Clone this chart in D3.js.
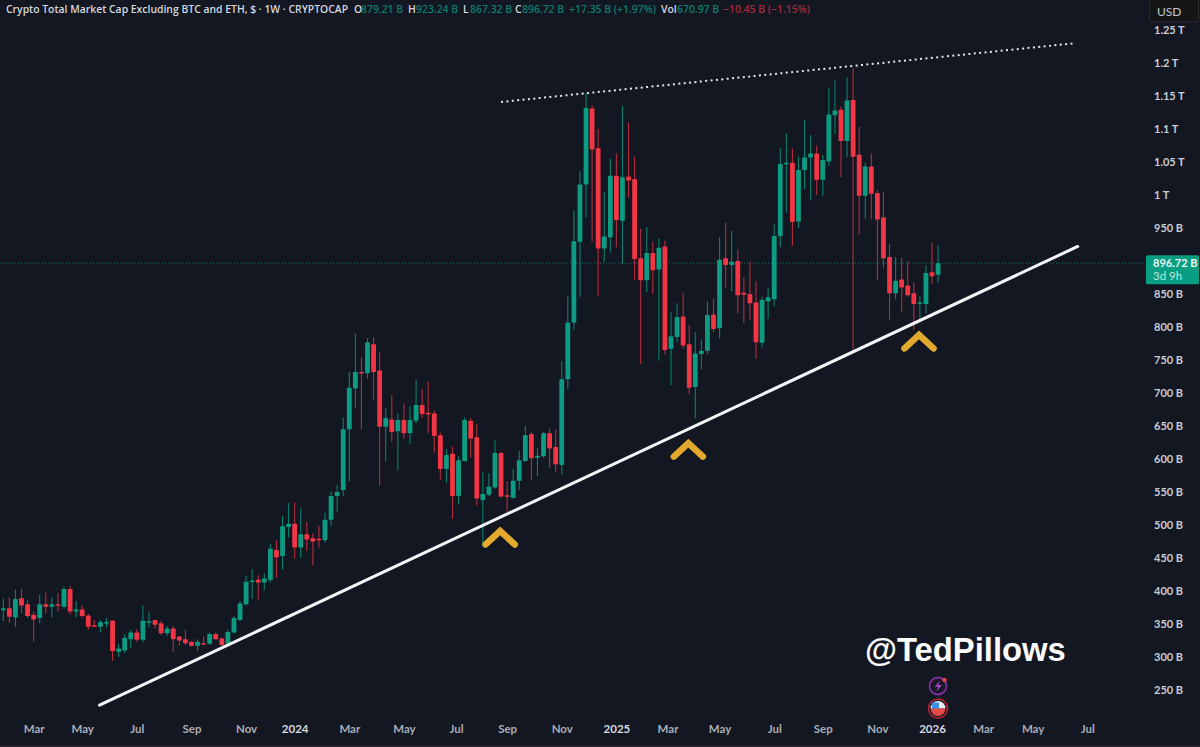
<!DOCTYPE html>
<html><head><meta charset="utf-8">
<script src="https://d3js.org/d3.v7.min.js"></script>
<style>html,body{margin:0;padding:0;background:#131722}svg{display:block}</style>
</head><body><div id="chart"></div>
<script>
const opens=[371,374,360,389,380,364,359,380,376,380,376,403,369,372,363,348,346,352,355,308,310,327,337,326,353,356,351,336,343,331,327,323,317,321,320,335,328,320,337,356,380,414,417,413,417,462,453,497,502,466,486,480,479,477,508,544,553,645,707,732,730,774,734,649,660,642,659,639,658,682,670,669,636,585,608,544,597,658,633,538,546,557,609,545,541,567,597,638,602,604,639,618,591,721,807,929,1016,1131,1071,919,936,1029,961,1028,1024,904,871,912,887,922,767,785,816,774,709,759,764,819,798,904,894,900,852,850,837,776,839,842,938,1047,1049,960,1038,1057,1063,1023,1051,1121,1129,1082,1144,1061,999,1043,1003,966,906,851,872,863,851,835,835,883,879.21];
const highs=[389,390,402,403,387,369,394,398,390,397,407,408,385,378,365,356,356,359,356,320,335,341,342,378,369,357,355,347,347,332,341,324,327,331,337,337,330,341,362,385,423,433,424,427,472,477,514,533,534,525,505,487,499,519,551,561,663,732,790,754,783,784,763,677,697,669,684,680,720,706,717,673,640,615,619,604,663,662,653,581,578,628,611,566,585,612,650,641,617,641,646,645,748,846,977,1036,1155,1136,1100,1005,1055,1063,1135,1110,1058,949,951,929,934,931,822,836,852,803,792,781,839,843,936,958,946,917,875,899,869,846,860,957,1071,1093,1071,1058,1114,1091,1075,1061,1162,1174,1134,1178,1192,1103,1049,1063,1007,1004,926,906,905,900,868,847,893,928,923.24];
const lows=[354,352,346,366,359,323,351,366,360,369,373,364,360,360,341,346,338,345,294,300,306,313,323,322,345,343,333,332,308,317,318,316,309,319,318,326,316,316,336,354,378,388,387,401,413,420,433,481,449,450,461,439,466,473,499,520,543,566,678,645,722,689,559,596,626,583,631,623,654,662,639,610,569,564,509,531,596,602,529,467,544,555,542,520,540,553,596,568,574,602,586,580,577,706,796,846,966,929,847,899,913,921,896,996,871,744,853,850,749,759,712,777,767,699,662,736,759,792,783,860,854,821,806,811,752,769,812,832,921,973,923,950,1009,993,1000,999,1044,1092,1027,1058,766,941,964,963,870,890,811,842,822,846,796,812,821,865,867.32];
const closes=[374,361,388,378,362,357,380,376,380,379,403,369,372,362,346,347,353,353,309,313,329,337,326,355,354,349,336,343,327,325,321,317,323,320,335,327,318,338,359,381,414,416,413,419,464,451,498,502,466,486,478,475,478,508,544,550,645,708,732,731,777,732,649,662,641,659,639,659,682,668,668,635,585,606,544,598,659,631,540,547,558,609,543,543,567,598,636,601,605,639,616,592,721,807,930,1016,1132,1069,919,937,1029,962,1027,1022,903,871,912,886,920,765,786,815,772,708,760,764,818,797,902,894,899,848,849,836,777,841,845,938,1047,1049,959,1038,1057,1063,1023,1053,1122,1128,1082,1143,1058,999,1043,1002,963,904,851,870,860,848,835,837,882,877,896.72];

const priceTicks=[250,300,350,400,450,500,550,600,650,700,750,800,850,950,1000,1050,1100,1150,1200,1250];
const monthTicks=["2023-03-06","2023-05-01","2023-07-03","2023-09-04","2023-11-06","2024-01-01","2024-03-04","2024-05-06","2024-07-05","2024-09-02","2024-11-04","2025-01-06","2025-03-06","2025-05-05","2025-07-07","2025-09-01","2025-11-03","2026-01-05","2026-03-05","2026-05-01","2026-07-03"];
const monthLabels=["Mar","May","Jul","Sep","Nov","2024","Mar","May","Jul","Sep","Nov","2025","Mar","May","Jul","Sep","Nov","2026","Mar","May","Jul"];
const supportLine=[["2023-05-21",227],["2026-06-22",922]];
const resistanceLine=[["2024-08-26",1141],["2026-06-19",1230]];
const chevrons=[["2024-08-25",491],["2025-03-30",624],["2025-12-21",788]];
const lastPrice=896.72;

const W=1200,H=747,UP="#0d9c82",DOWN="#f23645",BG="#131722",AXIS="#c9ccd4",FONT="Lato,'Open Sans',sans-serif";
const parse=d3.utcParse("%Y-%m-%d");
const firstWeek=parse("2023-01-30");
const weeks=opens.map((_,i)=>d3.utcDay.offset(firstWeek,i*7));
const x=d3.scaleUtc().domain([firstWeek,weeks[weeks.length-1]]).range([3.3,938.1]);
const y=d3.scaleLinear().domain([250,1250]).range([690,30]);
const svg=d3.select("#chart").append("svg").attr("width",W).attr("height",H).attr("viewBox",`0 0 ${W} ${H}`);
svg.append("rect").attr("width",W).attr("height",H).attr("fill",BG);
svg.append("rect").attr("y",745).attr("width",W).attr("height",2).attr("fill","#242528");

// last price line
svg.append("line").attr("x1",0).attr("x2",1146).attr("y1",y(lastPrice)).attr("y2",y(lastPrice))
  .attr("stroke",UP).attr("stroke-opacity",.75).attr("stroke-dasharray","1 2");

// candles
const c=svg.append("g").selectAll("g").data(weeks).join("g");
c.append("line").attr("x1",d=>x(d)).attr("x2",d=>x(d))
  .attr("y1",(d,i)=>y(highs[i])).attr("y2",(d,i)=>y(lows[i]))
  .attr("stroke",(d,i)=>closes[i]>=opens[i]?"#0c7f6c":"#b22d3c").attr("stroke-width",1.1);
c.append("rect").attr("x",d=>x(d)-2.4).attr("width",4.8)
  .attr("y",(d,i)=>y(Math.max(opens[i],closes[i])))
  .attr("height",(d,i)=>Math.max(1.5,Math.abs(y(opens[i])-y(closes[i]))))
  .attr("rx",.6)
  .attr("fill",(d,i)=>closes[i]>=opens[i]?UP:DOWN);

// drawings
const line=d3.line().x(d=>x(parse(d[0]))).y(d=>y(d[1]));
svg.append("path").attr("d",line(supportLine)).attr("stroke","#f4f5f6").attr("stroke-width",3).attr("fill","none").attr("stroke-linecap","round");
svg.append("path").attr("d",line(resistanceLine)).attr("stroke","#e4e6ea").attr("stroke-width",2).attr("fill","none").attr("stroke-dasharray","2 3.4");
svg.append("g").selectAll("path").data(chevrons).join("path")
  .attr("d",d=>{const a=x(parse(d[0])),b=y(d[1]);return `M${a-14.5},${b+13.5}L${a},${b}L${a+14.5},${b+13.5}`})
  .attr("fill","none").attr("stroke","#e2a92d").attr("stroke-width",6.5).attr("stroke-linecap","round").attr("stroke-linejoin","miter");

// axes
const yAxis=d3.axisRight(y).tickValues(priceTicks).tickSize(0).tickPadding(0)
  .tickFormat(v=>v>=1000?`${+(v/1000).toFixed(2)} T`:`${v} B`);
const gy=svg.append("g").attr("transform","translate(1154,0)").call(yAxis);
gy.select(".domain").remove();
gy.selectAll("text").attr("font-family",FONT).attr("font-size",11).attr("font-weight",700).attr("fill",AXIS);

const xAxis=d3.axisBottom(x).tickValues(monthTicks.map(parse)).tickSize(0).tickPadding(0)
  .tickFormat((d,i)=>monthLabels[i]);
const gx=svg.append("g").attr("transform","translate(0,725)").call(xAxis);
gx.select(".domain").remove();
gx.selectAll("text").attr("font-family",FONT).attr("font-size",11.5)
  .attr("font-weight",700)
  .attr("fill",(d,i)=>/^\d/.test(monthLabels[i])?"#d8dae0":"#a9acb5");

// last price tag
const tagY=y(lastPrice);
svg.append("rect").attr("x",1146).attr("y",tagY-8).attr("width",53).attr("height",29).attr("rx",1.5).attr("fill","#089e84");
svg.append("text").attr("x",1153).attr("y",tagY+4).text("896.72 B").attr("font-family",FONT).attr("font-size",11).attr("font-weight",700).attr("fill","#eaf7f4");
svg.append("text").attr("x",1153).attr("y",tagY+17).text("3d 9h").attr("font-family",FONT).attr("font-size",11.5).attr("font-weight",400).attr("fill","#bfe8df");

// currency box
svg.append("rect").attr("x",1149.5).attr("y",-2).attr("width",49).attr("height",24).attr("rx",3).attr("fill","#141516").attr("stroke","#2a2c30");
svg.append("text").attr("x",1157).attr("y",16).text("USD").attr("font-family",FONT).attr("font-size",12).attr("font-weight",400).attr("fill","#c3c6cc");

// header
const G="#0c7d6c",R="#a62a39",T="#d5d7dd";
const header=[[6,"Crypto Total Market Cap Excluding BTC and ETH, $ · 1W · CRYPTOCAP",T],[354,"O",T],[361,"879.21 B",G],[408,"H",T],[416,"923.24 B",G],[463,"L",T],[470,"867.32 B",G],[515,"C",T],[522,"896.72 B",G],[569,"+17.35 B (+1.97%)",G],[661,"Vol",T],[677,"670.97 B",G],[723,"−10.45 B (−1.15%)",R]];
svg.append("g").selectAll("text").data(header).join("text")
  .attr("x",d=>d[0]).attr("y",13).text(d=>d[1]).attr("fill",d=>d[2])
  .attr("font-family","'Open Sans',sans-serif").attr("font-size",10.4).attr("font-weight",600);

// watermark
svg.append("text").attr("x",865).attr("y",661).text("@TedPillows")
  .attr("font-family","'Liberation Sans',Arial,sans-serif").attr("font-size",32.8).attr("font-weight",700).attr("fill","#fbfbfb");

// event icons
const ic=svg.append("g");
ic.append("circle").attr("cx",938).attr("cy",686).attr("r",8.5).attr("fill","#1a1826").attr("stroke","#7b2f9f").attr("stroke-width",1.8);
ic.append("path").attr("d","M940,680.5L934.5,687H938L936.5,691.5L942,685H938.5Z").attr("fill","#9c46c4");
ic.append("circle").attr("cx",944.5).attr("cy",680).attr("r",2.2).attr("fill","#e8404f");
ic.append("circle").attr("cx",938).attr("cy",708.5).attr("r",9.5).attr("fill","#1a1826").attr("stroke","#b3252f").attr("stroke-width",1.6);
ic.append("path").attr("d","M930.5,708.5a7.5,7.5 0 0 1 15,0Z").attr("fill","#e8eef5");
ic.append("path").attr("d","M930.5,708.5a7.5,7.5 0 0 0 15,0Z").attr("fill","#e24a45");
ic.append("rect").attr("x",932).attr("y",702.5).attr("width",7).attr("height",6).attr("fill","#3f8fe0");
</script></body></html>
